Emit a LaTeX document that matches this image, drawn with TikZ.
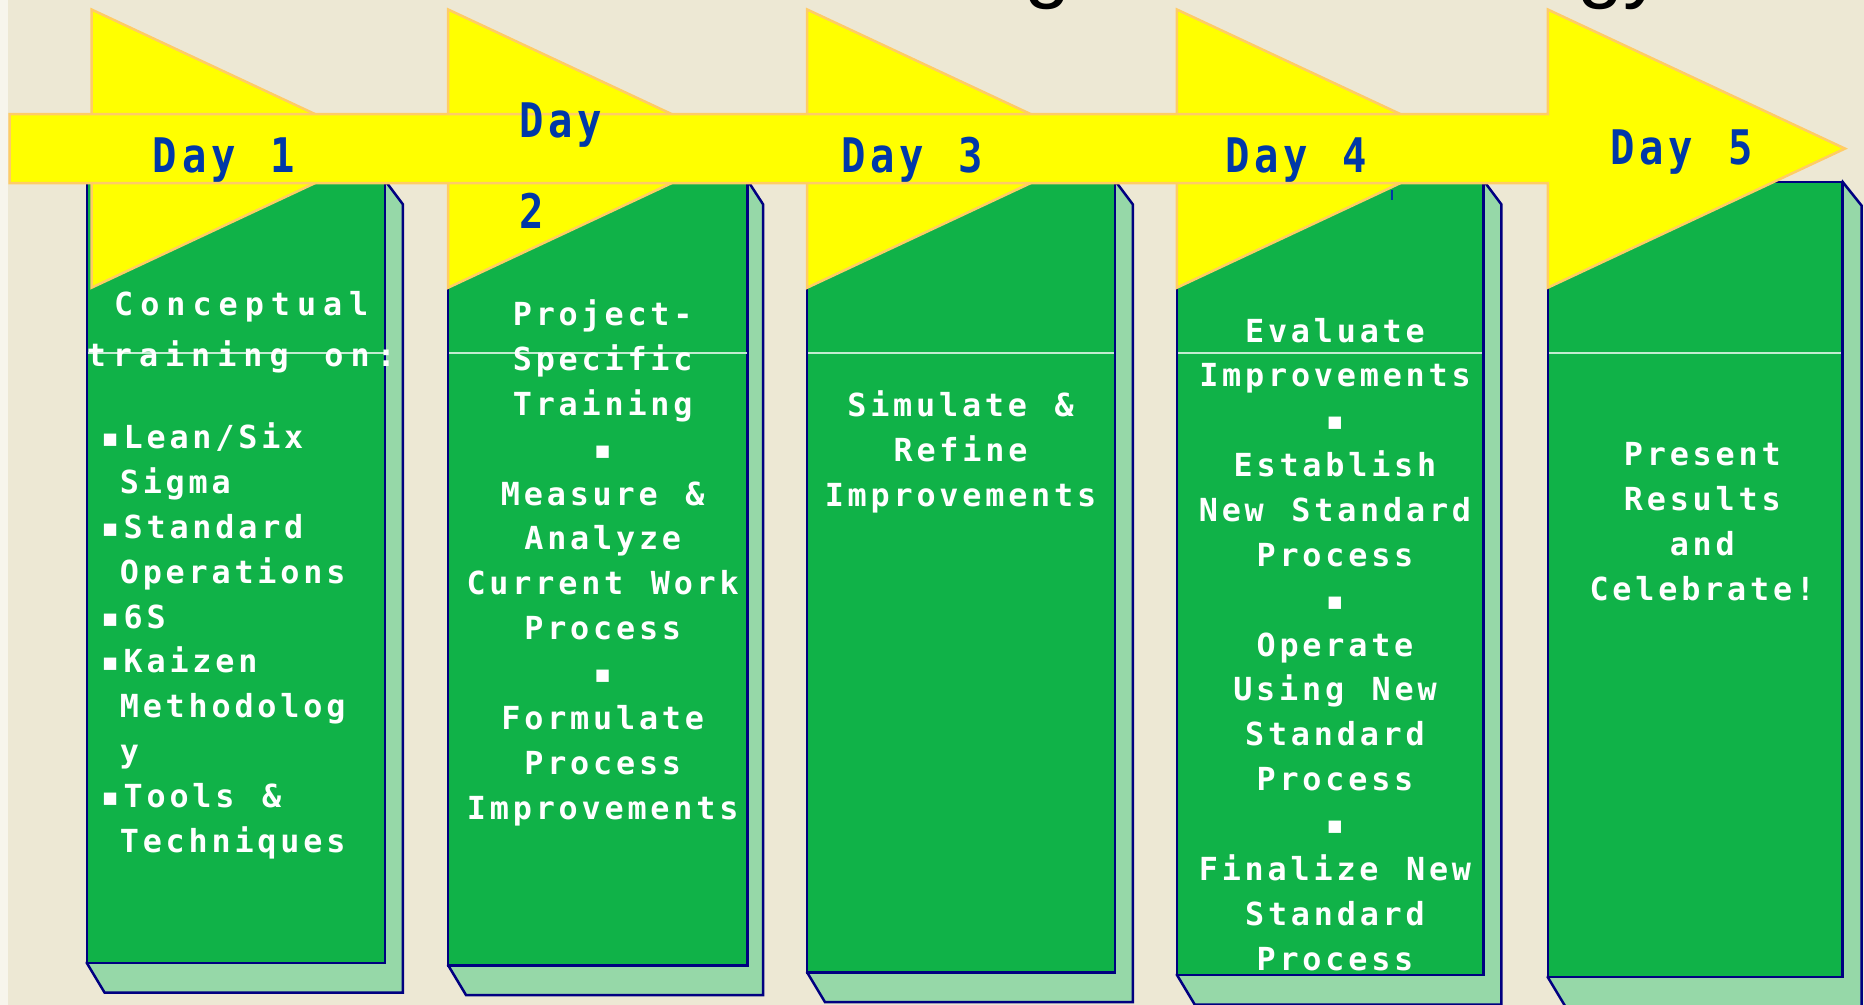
\documentclass[tikz,border=0pt]{standalone}
\usepackage{fontspec}
\newfontfamily\cardfont[LetterSpace=12,WordSpace=1.2]{DejaVu Sans Mono}
\newfontfamily\headfont[LetterSpace=22,WordSpace=1.37]{DejaVu Sans Mono}
\newfontfamily\dayfont[FakeStretch=0.85,LetterSpace=10,WordSpace=1.2]{DejaVu Sans Mono}
\newfontfamily\titlefont{Liberation Sans}

\definecolor{bgbeige}{RGB}{237,232,212}
\definecolor{boxgreen}{RGB}{16,178,72}
\definecolor{shadegreen}{RGB}{150,216,168}
\definecolor{edgenavy}{RGB}{0,0,128}
\definecolor{arrowfill}{RGB}{255,255,0}
\definecolor{arrowedge}{RGB}{255,204,102}
\definecolor{dayblue}{RGB}{0,56,168}

% one green day card with its extruded side and base
\newcommand\daycard[6]{% L, R, T, B, side offset, name
  \filldraw[cardside] (#1,#4) -- ({#1+15},{#4+25}) -- ({#2+#5},{#4+25})
    -- ({#2+#5},{#3+20}) -- (#2,#3) -- cycle;
  \filldraw[cardface] (#1,#3) rectangle (#2,#4);
  \coordinate (#6-nw) at (#1,#3);
  \coordinate (#6-se) at (#2,#4);
  \draw[sheen] ({#1+1},297) -- ({#2-1},297);
}

\begin{document}
\begin{tikzpicture}[x=0.01cm,y=-0.01cm,
  cardface/.style={fill=boxgreen,draw=edgenavy,line width=0.6pt},
  cardside/.style={fill=shadegreen,draw=edgenavy,line width=0.6pt,line join=miter},
  sheen/.style={draw=white!75!boxgreen,line width=0.3pt},
  arrowpart/.style={fill=arrowfill,draw=arrowedge,line width=0.6pt,line join=miter},
  cardtext/.style={text=white,inner sep=0pt,align=center,anchor=base,
    font=\cardfont\bfseries\fontsize{7.6pt}{10.73pt}\selectfont},
  headtext/.style={text=white,inner sep=0pt,align=center,anchor=base,
    font=\headfont\bfseries\fontsize{7.6pt}{12.23pt}\selectfont},
  daytext/.style={text=dayblue,inner sep=0pt,align=left,anchor=base west,
    font=\dayfont\bfseries\fontsize{11.4pt}{21.6pt}\selectfont},
  titlefrag/.style={text=black,inner sep=0pt,anchor=base west,
    font=\titlefont\fontsize{19.9pt}{24pt}\selectfont}]

\useasboundingbox (0,0) rectangle (1568,845);
\clip (0,0) rectangle (1568,845);

% backdrop
\fill[bgbeige] (0,0) rectangle (1568,845);
\fill[white!55!bgbeige] (0,0) rectangle (7,845);

% heading letters cut by the top edge
\node[titlefrag] (titleA) at (861,-6) {g};
\node[titlefrag] (titleB) at (1326,-6) {gy};

% day cards
\daycard{73}{324}{152}{810}{15}{card1}
\daycard{377}{629}{152}{812}{13}{card2}
\daycard{679}{938}{152}{818}{15}{card3}
\daycard{990}{1248}{152}{820}{15}{card4}
\daycard{1302}{1550}{153}{822}{16}{card5}

% chevrons behind the timeline
\filldraw[arrowpart] (77,8) -- (327,125) -- (77,242) -- cycle;
\filldraw[arrowpart] (377,8) -- (627,125) -- (377,242) -- cycle;
\filldraw[arrowpart] (679,8) -- (929,125) -- (679,242) -- cycle;
\filldraw[arrowpart] (990,8) -- (1240,125) -- (990,242) -- cycle;

% timeline arrow
\filldraw[arrowpart] (8,96) -- (1302,96) -- (1302,8) -- (1552,125)
  -- (1302,242) -- (1302,154) -- (8,154) -- cycle;

% day labels (anchored at the baseline of their last line)
\node[daytext] (day1) at (128,145) {Day 1};
\node[daytext] (day2) at (436,192) {Day\\2};
\node[daytext] (day3) at (707,145) {Day 3};
\node[daytext] (day4) at (1030,145) {Day 4};
\node[daytext] (day5) at (1354,138) {Day 5};
\draw[dayblue,line width=0.55pt] (1171,160) -- (1171,168);

% card texts (anchored at the baseline of their last line)
\node[headtext] (head1) at (203,308) {Conceptual\\training on:};
\node[cardtext,anchor=base west,align=left] (list1) at (84,717)
  {▪Lean/Six\\\phantom{▪}Sigma\\▪Standard\\\phantom{▪}Operations\\▪6S\\%
   ▪Kaizen\\\phantom{▪}Methodolog\\\phantom{▪}y\\▪Tools \&\\\phantom{▪}Techniques};
\node[cardtext] (text2) at (507,689)
  {Project-\\Specific\\Training\\▪\\Measure \&\\Analyze\\Current Work\\Process\\▪\\%
   Formulate\\Process\\Improvements};
\node[cardtext] (text3) at (808,426)
  {Simulate \&\\Refine\\Improvements};
\node[cardtext] (text4) at (1123,816)
  {Evaluate\\Improvements\\▪\\Establish\\New Standard\\Process\\▪\\Operate\\%
   Using New\\Standard\\Process\\▪\\Finalize New\\Standard\\Process};
\node[cardtext] (text5) at (1432,505)
  {Present\\Results\\and\\Celebrate!};
\end{tikzpicture}
\end{document}
